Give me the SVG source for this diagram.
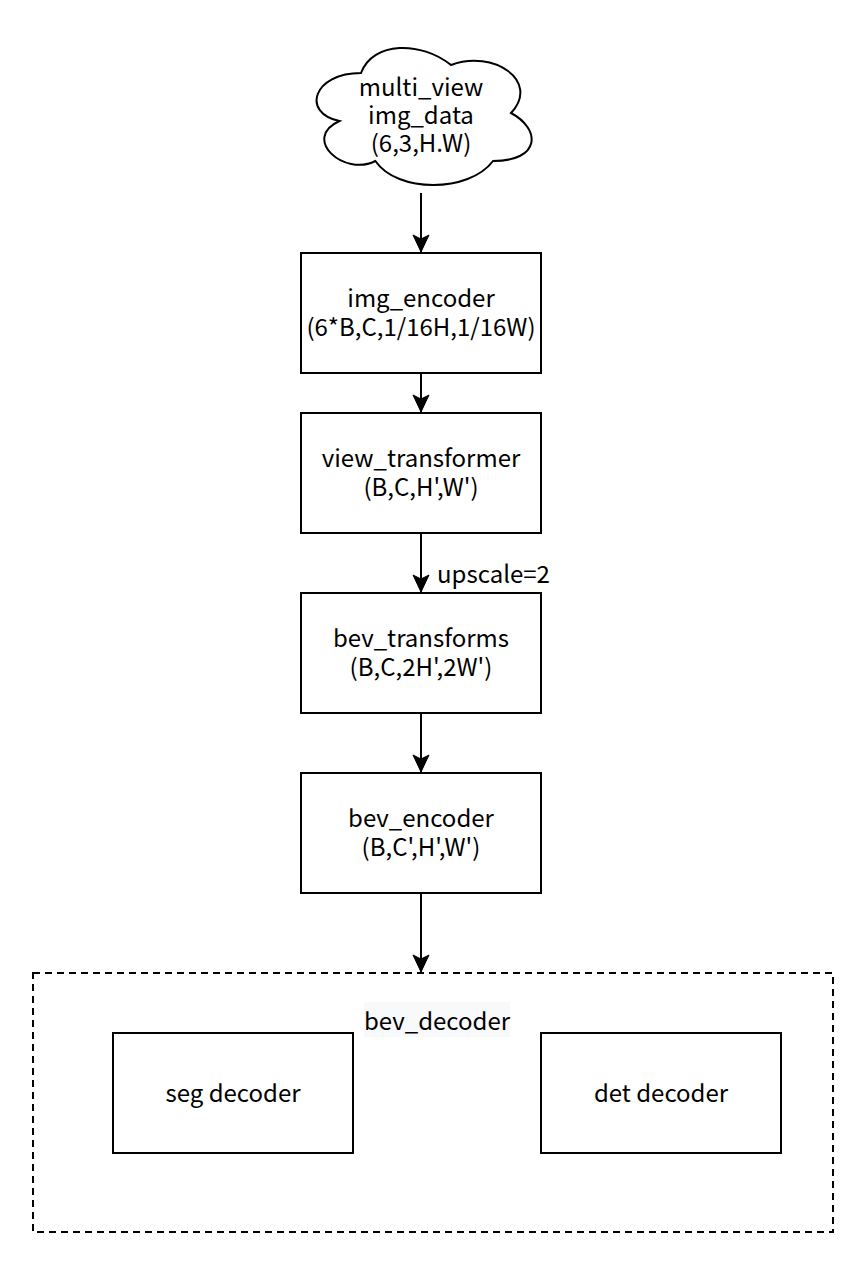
<svg xmlns="http://www.w3.org/2000/svg" width="868" height="1276" viewBox="0 0 868 1276">
<style>
text{font-family:"Noto Sans CJK SC","Noto Sans",sans-serif;font-size:24px;fill:#000;text-anchor:middle}
.box{fill:#fff;stroke:#000;stroke-width:2}
.edge{fill:none;stroke:#000;stroke-width:2}
</style>
<defs>
<marker id="arr" markerUnits="userSpaceOnUse" markerWidth="20" markerHeight="20" viewBox="0 0 20 20" refX="18" refY="10" orient="auto">
<path d="M18 10 L1 2 L5 10 L1 18 Z" fill="#000" stroke="#000" stroke-width="1"/>
</marker>
</defs>
<rect width="868" height="1276" fill="#fff"/>
<g id="connectors">
<path class="edge" d="M421 193 L421 252" marker-end="url(#arr)"/>
<path class="edge" d="M421 373 L421 412" marker-end="url(#arr)"/>
<path class="edge" d="M421 533 L421 592" marker-end="url(#arr)"/>
<path class="edge" d="M421 713 L421 772" marker-end="url(#arr)"/>
<path class="edge" d="M421 893 L421 972" marker-end="url(#arr)"/>
<text x="437" y="583" style="text-anchor:start">upscale=2</text>
</g>
<g id="multi_view">
<path class="box" d="M361 73 C313 73 301 113 339.4 121 C301 138.6 344.2 177 375.4 161 C397 193 469 193 493 161 C541 161 541 129 511 113 C541 81 493 49 451 65 C421 41 373 41 361 73 Z"/>
<text x="421" y="96">multi_view<tspan x="421" dy="28">img_data</tspan><tspan x="421" dy="28">(6,3,H.W)</tspan></text>
</g>
<g id="img_encoder">
<rect class="box" x="301" y="253" width="240" height="120"/>
<text x="421" y="307">img_encoder<tspan x="421" dy="29">(6*B,C,1/16H,1/16W)</tspan></text>
</g>
<g id="view_transformer">
<rect class="box" x="301" y="413" width="240" height="120"/>
<text x="421" y="467">view_transformer<tspan x="421" dy="29">(B,C,H',W')</tspan></text>
</g>
<g id="bev_transforms">
<rect class="box" x="301" y="593" width="240" height="120"/>
<text x="421" y="647">bev_transforms<tspan x="421" dy="29">(B,C,2H',2W')</tspan></text>
</g>
<g id="bev_encoder">
<rect class="box" x="301" y="773" width="240" height="120"/>
<text x="421" y="827">bev_encoder<tspan x="421" dy="29">(B,C',H',W')</tspan></text>
</g>
<g id="bev_decoder">
<rect x="33" y="973" width="800" height="259" fill="none" stroke="#000" stroke-width="2" stroke-dasharray="7 5"/>
<rect x="364" y="1002" width="146" height="35" fill="#f8f9fa"/>
<text x="437" y="1030">bev_decoder</text>
</g>
<g id="seg_decoder">
<rect class="box" x="113" y="1033" width="240" height="120"/>
<text x="233" y="1102">seg decoder</text>
</g>
<g id="det_decoder">
<rect class="box" x="541" y="1033" width="240" height="120"/>
<text x="661" y="1102">det decoder</text>
</g>
</svg>
